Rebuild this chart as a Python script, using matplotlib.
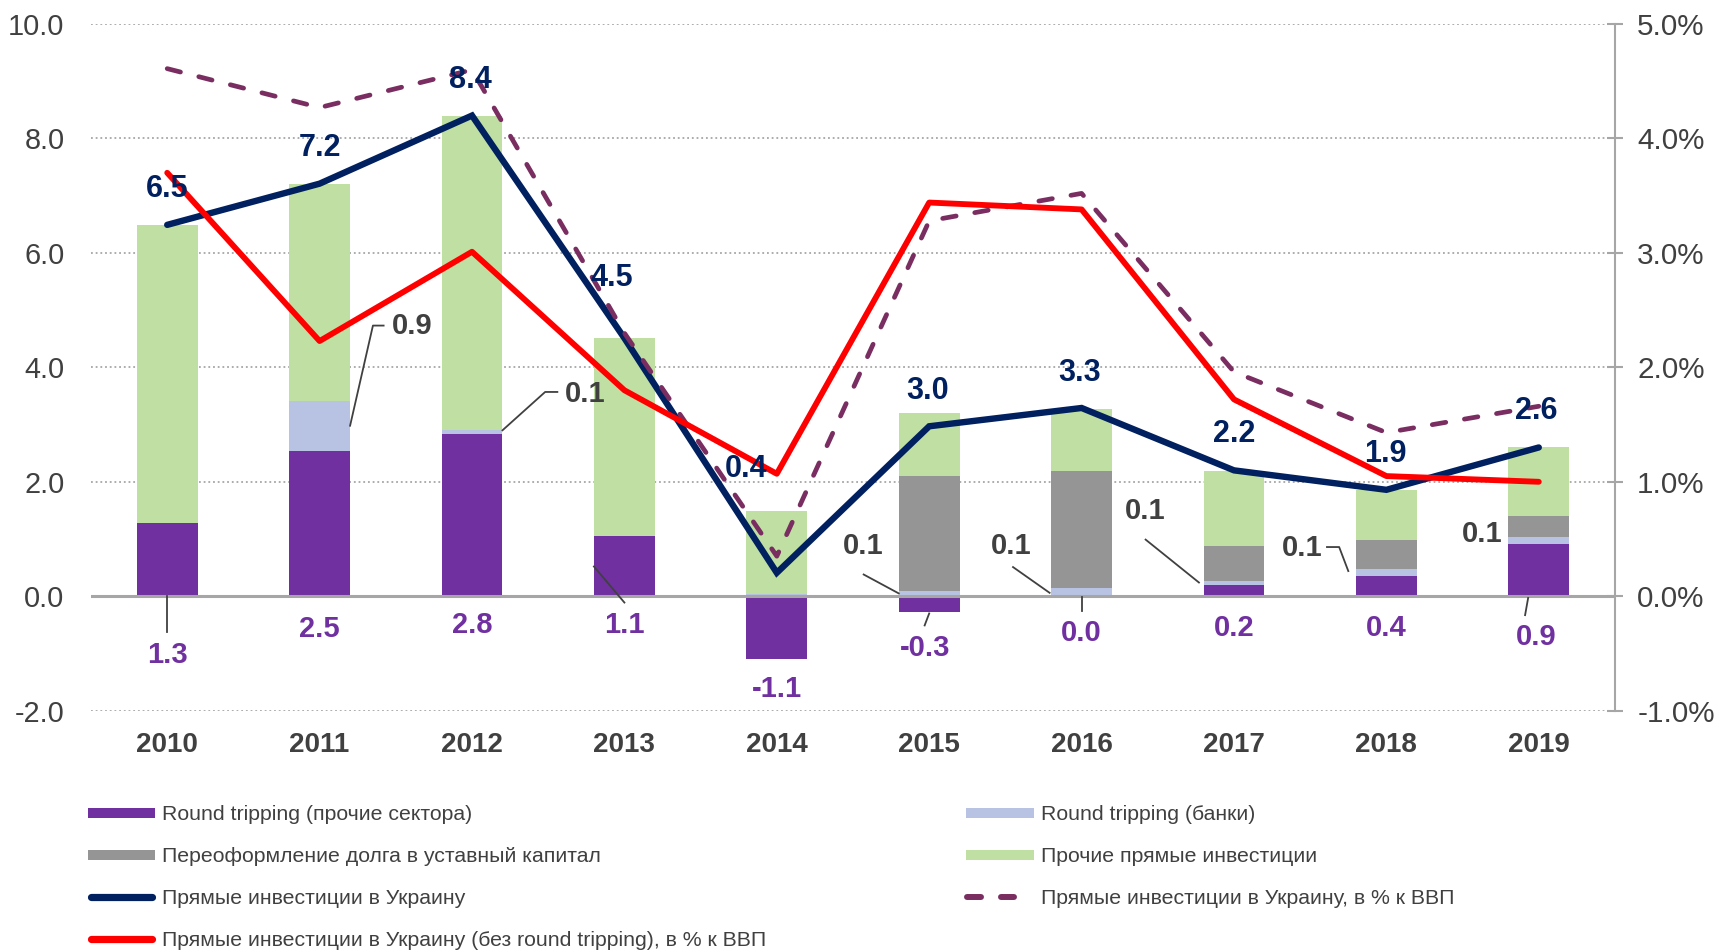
import matplotlib
matplotlib.use("Agg")
import matplotlib.pyplot as plt
from matplotlib.lines import Line2D
import numpy as np

plt.rcParams['font.family'] = ['Liberation Sans', 'DejaVu Sans']

# ---------------- data ----------------
years = ['2010', '2011', '2012', '2013', '2014', '2015', '2016', '2017', '2018', '2019']
rt_other = [1.28, 2.53, 2.83, 1.06, -1.10, -0.27, 0.00, 0.20, 0.36, 0.91]   # Round tripping (прочие сектора)
rt_banks = [0.00, 0.89, 0.07, 0.00, 0.04, 0.10, 0.14, 0.06, 0.12, 0.13]    # Round tripping (банки)
debt_conv = [0.00, 0.00, 0.00, 0.00, 0.00, 2.01, 2.05, 0.62, 0.51, 0.37]   # Переоформление долга
other_fdi = [5.21, 3.79, 5.50, 3.45, 1.45, 1.10, 1.09, 1.31, 0.86, 1.19]   # Прочие прямые инвестиции
fdi_total = [6.49, 7.21, 8.40, 4.51, 0.41, 2.97, 3.29, 2.20, 1.86, 2.60]   # Прямые инвестиции в Украину
fdi_pct_gdp = [4.61, 4.27, 4.60, 2.30, 0.35, 3.28, 3.52, 1.96, 1.43, 1.66]
fdi_ex_rt_pct_gdp = [3.70, 2.23, 3.01, 1.80, 1.07, 3.44, 3.38, 1.72, 1.05, 1.00]

left_ticks = [-2, 0, 2, 4, 6, 8, 10]
right_ticks = [-1, 0, 1, 2, 3, 4, 5]

names = ['Round tripping (прочие сектора)', 'Round tripping (банки)',
         'Переоформление долга в уставный капитал', 'Прочие прямые инвестиции',
         'Прямые инвестиции в Украину', 'Прямые инвестиции в Украину, в % к ВВП',
         'Прямые инвестиции в Украину (без round tripping), в % к ВВП']

# ---------------- style ----------------
C_PURPLE = '#7030A0'
C_LBLUE = '#B8C3E3'
C_GRAY = '#959595'
C_GREEN = '#BFE0A2'
C_NAVY = '#002060'
C_DASH = '#7A2D60'
C_RED = '#FF0000'
C_TXT = '#404040'
C_AX = '#A6A6A6'

W, H = 1716, 951
fig = plt.figure(figsize=(W / 100, H / 100), dpi=100)
ax = fig.add_axes([91 / W, 1 - 710.7 / H, (1615 - 91) / W, (710.7 - 24) / H])
x = np.arange(len(years))
bw = 0.40

pos_base = np.zeros(len(years))
neg_base = np.zeros(len(years))
for vals, col in [(rt_other, C_PURPLE), (rt_banks, C_LBLUE), (debt_conv, C_GRAY), (other_fdi, C_GREEN)]:
    v = np.array(vals, dtype=float)
    bottoms = np.where(v >= 0, pos_base, neg_base)
    ax.bar(x, v, bw, bottom=bottoms, color=col, zorder=2, linewidth=0)
    pos_base += np.where(v >= 0, v, 0)
    neg_base += np.where(v < 0, v, 0)

ax.set_xlim(-0.5, len(years) - 0.5)
ax.set_ylim(left_ticks[0], left_ticks[-1])
ax.set_yticks(left_ticks)
ax.set_yticklabels([f'{t:.1f}' for t in left_ticks])
ax.yaxis.grid(True, linestyle=(0, (1, 1.6)), color=C_AX, linewidth=1.3, zorder=0)
ax.set_axisbelow(True)
ax.axhline(0, color=C_AX, linewidth=2.2, zorder=2.5)
ax.tick_params(axis='y', length=0, pad=19, labelsize=20.8, labelcolor=C_TXT)
ax.set_xticks(x)
ax.set_xticklabels(years, fontweight='bold')
ax.tick_params(axis='x', length=0, pad=15.5, labelsize=20, labelcolor=C_TXT)
for s in ax.spines.values():
    s.set_visible(False)

ax.plot(x, fdi_total, color=C_NAVY, lw=4.6, zorder=3, solid_capstyle='round', solid_joinstyle='miter')

ax2 = ax.twinx()
ax2.set_ylim(right_ticks[0], right_ticks[-1])
ax2.set_yticks(right_ticks)
ax2.set_yticklabels([f'{t:.1f}%' for t in right_ticks])
ax2.tick_params(axis='y', direction='inout', length=11, width=1.5, color=C_AX, pad=10.5,
                labelsize=21.3, labelcolor=C_TXT)
for k, s in ax2.spines.items():
    s.set_visible(k == 'right')
ax2.spines['right'].set_color(C_AX)
ax2.spines['right'].set_linewidth(1.5)

ax2.plot(x, fdi_pct_gdp, color=C_DASH, lw=3.4, dashes=(2.9, 4.0), dash_capstyle='round', zorder=3)
ax2.plot(x, fdi_ex_rt_pct_gdp, color=C_RED, lw=4.2, zorder=4, solid_capstyle='round')

T = ax.transData
# totals labels (navy)
tot_pos = [(0, 7.11), (1, 7.83), (1.99, 9.02), (2.92, 5.56), (3.80, 2.22),
           (4.99, 3.59), (5.99, 3.90), (7.0, 2.83), (7.99, 2.48), (8.98, 3.23)]
for (px, py), v in zip(tot_pos, fdi_total):
    ax2.text(px, py, f'{v:.1f}', transform=T, ha='center', va='center', fontsize=22,
             fontweight='bold', color=C_NAVY, zorder=10)

# round tripping other labels (purple)
pur_pos = [(0, -1.03), (1, -0.57), (2, -0.50), (3, -0.50), (4, -1.62),
           (4.97, -0.90), (6, -0.65), (7, -0.55), (8, -0.55), (8.98, -0.71)]
for (px, py), v in zip(pur_pos, rt_other):
    ax2.text(px, py, f'{v:.1f}', transform=T, ha='center', va='center', fontsize=21,
             fontweight='bold', color=C_PURPLE, zorder=10)

# banks labels (gray)
bank_pos = {1: (1.61, 4.72), 2: (2.74, 3.54), 5: (4.57, 0.88), 6: (5.54, 0.88),
            7: (6.42, 1.49), 8: (7.45, 0.84), 9: (8.63, 1.09)}
for i, (px, py) in bank_pos.items():
    ax2.text(px, py, f'{rt_banks[i]:.1f}', transform=T, ha='center', va='center', fontsize=21,
             fontweight='bold', color=C_TXT, zorder=10)

leaders = [
    [(1.2, 2.98), (1.35, 4.73), (1.42, 4.73)],
    [(2.2, 2.90), (2.48, 3.57), (2.56, 3.57)],
    [(4.57, 0.38), (4.80, 0.05)],
    [(5.55, 0.51), (5.79, 0.06)],
    [(6.42, 0.99), (6.77, 0.24)],
    [(7.61, 0.86), (7.69, 0.86), (7.75, 0.44)],
    [(0, 0), (0, -0.63)],
    [(2.80, 0.52), (3.0, -0.11)],
    [(5.0, -0.30), (4.97, -0.51)],
    [(6.0, -0.02), (6.0, -0.25)],
    [(8.93, -0.03), (8.91, -0.33)],
]
for seg in leaders:
    xs, ys = zip(*seg)
    ax.plot(xs, ys, color=C_TXT, lw=1.3, zorder=5)

# ---------------- legend (manual) ----------------
def fy(y):
    return 1 - y / H

def fx(xp):
    return xp / W

rows = [813, 855, 897, 939]
items = [
    (0, 0, 'patch', C_PURPLE), (1, 0, 'patch', C_LBLUE),
    (0, 1, 'patch', C_GRAY), (1, 1, 'patch', C_GREEN),
    (0, 2, 'line', C_NAVY), (1, 2, 'dash', C_DASH),
    (0, 3, 'line', C_RED),
]
col_x = [(88, 155, 162), (966, 1034, 1041)]
for idx, (c, r, kind, col) in enumerate(items):
    x0, x1, xt = col_x[c]
    yy = fy(rows[r])
    if kind == 'patch':
        fig.add_artist(Line2D([fx(x0), fx(x1)], [yy, yy], transform=fig.transFigure,
                              color=col, lw=7.2, solid_capstyle='butt'))
    elif kind == 'line':
        fig.add_artist(Line2D([fx(x0 + 3), fx(x1 - 3)], [yy, yy], transform=fig.transFigure,
                              color=col, lw=5.2, solid_capstyle='round'))
    else:
        for a, b in [(967, 981), (1001, 1014)]:
            fig.add_artist(Line2D([fx(a), fx(b)], [yy, yy], transform=fig.transFigure,
                                  color=col, lw=4.3, solid_capstyle='round'))
    fig.text(fx(xt), yy, names[idx], fontsize=15.3, color=C_TXT, ha='left', va='center_baseline')

fig.savefig('out.png', dpi=100)
